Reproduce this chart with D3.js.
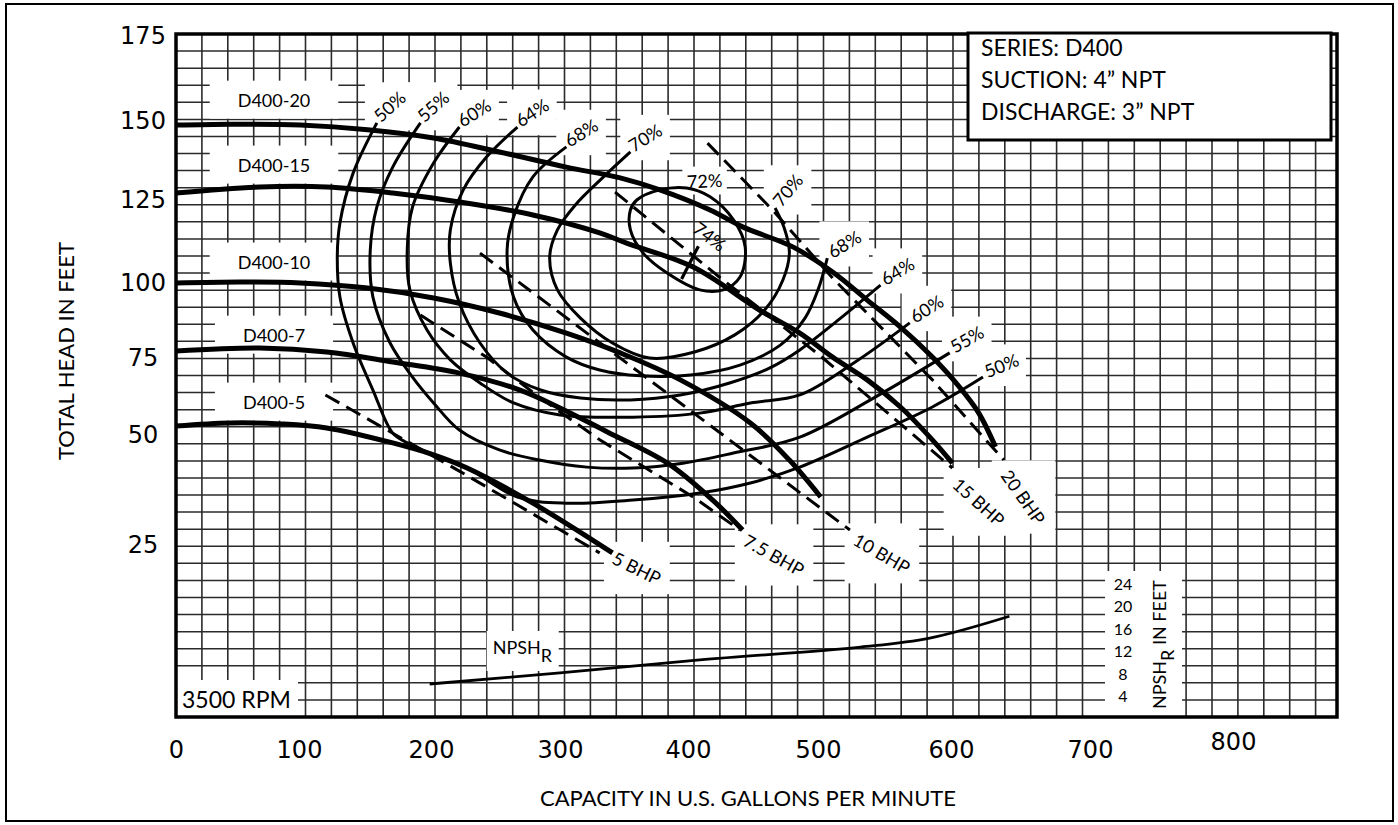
<!DOCTYPE html>
<html><head><meta charset="utf-8">
<script src="https://cdn.jsdelivr.net/npm/d3@7"></script>
<style>
body{margin:0;background:#fff;}
svg{display:block;}
</style></head>
<body>
<svg id="chart" width="1398" height="825"></svg>
<script>
// ---------------- DATA ----------------
const xTicks = [0,100,200,300,400,500,600,700,800];
const yTicks = [25,50,75,100,125,150,175];
const npshTicks = [4,8,12,16,20,24];

// Head-capacity curves (gpm, ft)
const d400_20_gpm  = [0,44,101,152,202,253,305,347,378,417,442,481,511,537,562,586,606,620,632];
const d400_20_head = [148.7,149,148.7,147.2,144.6,140.2,135.4,132,128.2,122,116.9,110.8,103.3,94.3,85.3,75.3,65.6,57.1,47.3];
const d400_15_gpm  = [0,68,121,171,222,279,331,352,404,455,486,511,537,562,586,601];
const d400_15_head = [127.2,129.1,129.1,127.2,124.4,120.5,115.1,112,104.8,91,83.3,75.3,67.9,59.1,48.9,43.6];
const d400_10_gpm  = [0,52,101,152,202,253,305,347,394,448,478,502];
const d400_10_head = [100,100.3,100,98.3,95,90,83.3,76.7,67.9,53.9,44.3,35.9];
const d400_7_gpm   = [0,68,121,171,222,269,300,337,384,419,442];
const d400_7_head  = [77.3,78.3,77,73.7,70.1,64.6,58.8,51,43.6,35.2,28.4];
const d400_5_gpm   = [0,44,85,121,171,202,228,279,341];
const d400_5_head  = [52.9,53.9,53.6,52.3,48.2,45.5,42.5,34.5,23.2];

// Brake horsepower lines (dashed)
const bhp5_gpm   = [120,222,331];
const bhp5_head  = [63,41.8,23.2];
const bhp75_gpm  = [192,243,284,331,404,440];
const bhp75_head = [89.3,75.3,62.3,48.9,35.9,28.4];
const bhp10_gpm  = [238,373,524];
const bhp10_head = [109,66.9,28.4];
const bhp15_gpm  = [343,425,501,601];
const bhp15_head = [127.5,101.5,76,42.5];
const bhp20_gpm  = [415,465,511,586,638];
const bhp20_head = [143,122,101.5,67.9,44.3];

// Iso-efficiency curves
const eff50_gpm  = [159,141,131,129,131,141,156,171,182,202,228,267,305,357,409,448,486,537,586,623];
const eff50_head = [149.4,133.5,118.1,107.8,95.3,80,64.6,50.6,48.2,45.5,42.5,35.9,34.5,35.2,36.8,39.1,42.7,49.5,59.1,68.8];
const eff55_gpm  = [192,171,159,154,156,169,186,202,222,253,284,321,357,396,435,486,543,599];
const eff55_head = [149.4,135.4,122.9,110,95.3,80,68.8,60.4,51.6,46.6,44.3,42.7,42.5,43.6,45.9,49.5,62.3,76.7];
const eff60_gpm  = [222,202,186,182,184,197,215,238,264,300,357,409,448,486,528,569];
const eff60_head = [148.1,136.7,122.9,110,97.7,84.3,74.4,66.9,60.4,56.5,55.8,57.1,60.4,63,73.7,86.7];
const eff64_gpm  = [267,243,225,215,215,222,238,259,285,316,355,394,432,463,486,517,547];
const eff64_head = [148.1,138.6,128.2,116,106,93.3,80,70.1,64.6,62,61.4,63,66.9,71.8,77.7,88.3,99.3];
const eff68_gpm  = [305,279,264,259,264,279,305,331,363,402,440,471,490,500,507];
const eff68_head = [141.8,132.3,119.9,110,95.3,84.3,75.3,71.1,69.2,69.5,72.7,79.3,88.3,97.7,107.5];
const eff70_gpm  = [355,334,312,298,292,298,316,341,370,405,436,459,473,478,474,467];
const eff70_head = [140.2,132.3,123.5,116,107.8,97.7,88.3,80,75,77,82.7,91,100.9,109.3,116.6,122.6];
const eff72_gpm  = [360,378,399,417,435,444,440,427,409,384,365,355,355];
const eff72_head = [125,128.2,128.8,126,119,110.8,101.8,97.7,97.7,102.9,109,116,122];
const bep74_gpm  = [395,408];
const bep74_head = [101.2,111.1];

// NPSH required
const npsh_gpm = [199,300,409,532,584,642];
const npsh_ft  = [6.5,8.5,10.8,13.1,14.7,18.6];

const headNames = ["D400-20","D400-15","D400-10","D400-7","D400-5"];
const bhpNames  = ["5 BHP","7.5 BHP","10 BHP","15 BHP","20 BHP"];
const effNames  = ["50%","55%","60%","64%","68%","70%"];
const infoLines = ["SERIES: D400","SUCTION: 4\u201D NPT","DISCHARGE: 3\u201D NPT"];

// ---------------- CHART ----------------
const zip = (a,b) => a.map((v,i)=>[v,b[i]]);
const headCurves = [
  zip(d400_20_gpm,d400_20_head), zip(d400_15_gpm,d400_15_head), zip(d400_10_gpm,d400_10_head),
  zip(d400_7_gpm,d400_7_head), zip(d400_5_gpm,d400_5_head)];
const bhpLines = [zip(bhp5_gpm,bhp5_head), zip(bhp75_gpm,bhp75_head), zip(bhp10_gpm,bhp10_head),
  zip(bhp15_gpm,bhp15_head), zip(bhp20_gpm,bhp20_head)];
const effCurves = [zip(eff50_gpm,eff50_head), zip(eff55_gpm,eff55_head), zip(eff60_gpm,eff60_head),
  zip(eff64_gpm,eff64_head), zip(eff68_gpm,eff68_head), zip(eff70_gpm,eff70_head)];
const eff72 = zip(eff72_gpm,eff72_head);
const bep74 = zip(bep74_gpm,bep74_head);
const npsh = zip(npsh_gpm,npsh_ft);

const svg = d3.select('#chart');
const plot = {left:176, right:1337, top:34, bottom:717};

const x = d3.scaleLinear().domain(xTicks).range([176,299,431,560,688,818,951,1090,1233]);
const y = d3.scaleLinear().domain(yTicks).range([545,435,358,283,200,121,36]);
const yN = d3.scaleLinear().domain([npshTicks[0], npshTicks[npshTicks.length-1]]).range([698,586]);
const gx = d3.scaleLinear().domain([0,45]).range([plot.left, plot.left + 25.9*45]);
const gy = d3.scaleLinear().domain([0,40]).range([plot.bottom, plot.top]);

const SANS = "Lato, 'Open Sans', sans-serif";

// outer frame
svg.append('rect').attr('x',6).attr('y',4).attr('width',1387).attr('height',817)
  .attr('fill','#fff').attr('stroke','#000').attr('stroke-width',2);

const gridG = svg.append('g');
const patchG = svg.append('g');
const curveG = svg.append('g');
const textG = svg.append('g');

// grid
gridG.selectAll('line.v').data(d3.range(1,45)).join('line').attr('class','v')
  .attr('x1',d=>gx(d)).attr('x2',d=>gx(d)).attr('y1',plot.top).attr('y2',plot.bottom)
  .attr('stroke','#2b2b2b').attr('stroke-width',1.6);
gridG.selectAll('line.h').data(d3.range(1,40)).join('line').attr('class','h')
  .attr('y1',d=>gy(d)).attr('y2',d=>gy(d)).attr('x1',plot.left).attr('x2',plot.right)
  .attr('stroke','#2b2b2b').attr('stroke-width',1.5);

// line generators
const smooth = d3.line().x(d=>x(d[0])).y(d=>y(d[1])).curve(d3.curveCatmullRom.alpha(0.5));
const straight = d3.line().x(d=>x(d[0])).y(d=>y(d[1]));
const closed = d3.line().x(d=>x(d[0])).y(d=>y(d[1])).curve(d3.curveCatmullRomClosed.alpha(0.5));
const npshGen = d3.line().x(d=>x(d[0])).y(d=>yN(d[1])).curve(d3.curveCatmullRom.alpha(0.5));

// efficiency curves
curveG.selectAll('path.eff').data(effCurves).join('path').attr('class','eff')
  .attr('d',smooth).attr('fill','none').attr('stroke','#000').attr('stroke-width',3);
curveG.append('path').datum(eff72).attr('d',closed).attr('fill','none').attr('stroke','#000').attr('stroke-width',3);
curveG.append('path').datum(bep74).attr('d',straight).attr('fill','none').attr('stroke','#000').attr('stroke-width',3.2);

// BHP dashed lines
curveG.selectAll('path.bhp').data(bhpLines).join('path').attr('class','bhp')
  .attr('d',straight).attr('fill','none').attr('stroke','#000').attr('stroke-width',3)
  .attr('stroke-dasharray','16,8');

// head curves
curveG.selectAll('path.head').data(headCurves).join('path').attr('class','head')
  .attr('d',smooth).attr('fill','none').attr('stroke','#000').attr('stroke-width',5);

// NPSH curve
curveG.append('path').datum(npsh).attr('d',npshGen).attr('fill','none').attr('stroke','#000').attr('stroke-width',2.8);

// plot border
svg.append('rect').attr('x',plot.left).attr('y',plot.top).attr('width',plot.right-plot.left)
  .attr('height',plot.bottom-plot.top).attr('fill','none').attr('stroke','#000').attr('stroke-width',3.5);

// helper: white patch behind text
function patch(sel, px, py){
  sel.each(function(){
    const r = this.getBoundingClientRect();
    patchG.append('rect').attr('x',r.left-px).attr('y',r.top-py)
      .attr('width',r.width+2*px).attr('height',r.height+2*py).attr('fill','#fff');
  });
}
function addText(txt, px, py, angle, size, anchor){
  return textG.append('text').attr('transform',`translate(${px},${py}) rotate(${angle})`)
    .attr('text-anchor',anchor||'start').attr('dominant-baseline','middle')
    .style('font-family',SANS).style('font-size',size+'px').attr('fill','#000').text(txt);
}

// head curve labels
const headLabelDy = [-23,-26,-19,-14,-22];
headCurves.forEach((c,i)=>{
  const t = addText(headNames[i], x(c[0][0])+98, y(c[0][1])+headLabelDy[i], 0, 18, 'middle');
  patch(t, 28, 8);
});

// efficiency labels  [left angle, right angle]
const effAngles = [[-42,-22],[-42,-30],[-32,-32],[-33,-31],[-32,-31],[-32,-50]];
effCurves.forEach((c,i)=>{
  const a = c[0], b = c[c.length-1];
  const t1 = addText(effNames[i], x(a[0])+1, y(a[1])-3, effAngles[i][0], 18);
  patch(t1, 4, 4);
  const t2 = addText(effNames[i], x(b[0])+3, y(b[1])-3, effAngles[i][1], 18);
  patch(t2, 4, 4);
});
const t72 = addText('72%', x(eff72[2][0])+18, y(eff72[2][1])-5, -3, 18, 'middle');
patch(t72, 4, 2);
const t74 = addText('74%', x(bep74[1][0])+10, y(bep74[1][1])-8, 37, 18, 'middle');

// BHP labels [dx, dy, angle]
const bhpStyle = [[13,6,26],[4,11,29],[4,10,30],[2,15,42],[0,13,55]];
bhpLines.forEach((c,i)=>{
  const e = c[c.length-1], s = bhpStyle[i];
  const t = addText(bhpNames[i], x(e[0])+s[0], y(e[1])+s[1], s[2], 18);
  patch(t, 5, 5);
});

// NPSH label on curve
const nl = textG.append('text').attr('x', x(npsh[0][0])+63).attr('y', yN(npsh[0][1])-30)
  .style('font-family',SANS).style('font-size','18px');
nl.append('tspan').text('NPSH');
nl.append('tspan').attr('dy',8).text('R');
patch(nl, 6, 5);

// NPSH axis (right side)
const npshG = textG.append('g');
npshG.selectAll('text').data(npshTicks).join('text')
  .attr('x',1123).attr('y',d=>yN(d)).attr('text-anchor','middle').attr('dominant-baseline','middle')
  .style('font-family',SANS).style('font-size','16px').text(d=>d);
const nt = textG.append('text').attr('transform','translate(1166,709) rotate(-90)')
  .style('font-family',SANS).style('font-size','18px');
nt.append('tspan').text('NPSH');
nt.append('tspan').attr('dy',8).text('R');
nt.append('tspan').attr('dy',-8).text('  IN FEET');
patchG.append('rect').attr('x',1105).attr('y',571).attr('width',77).attr('height',plot.bottom-571).attr('fill','#fff');

// 3500 RPM
textG.append('text').attr('x',plot.left+6).attr('y',plot.bottom-9)
  .style('font-family',SANS).style('font-size','23px').text('3500 RPM');
patchG.append('rect').attr('x',plot.left).attr('y',680).attr('width',122).attr('height',plot.bottom-680).attr('fill','#fff');

// info box
svg.append('rect').attr('x',968).attr('y',33).attr('width',363).attr('height',107)
  .attr('fill','#fff').attr('stroke','#000').attr('stroke-width',3);
svg.selectAll('text.info').data(infoLines).join('text').attr('class','info')
  .attr('x',981).attr('y',(d,i)=>56+i*32)
  .style('font-family',SANS).style('font-size','23px').text(d=>d);

// axes
const yAxis = d3.axisLeft(y).tickValues(yTicks).tickSize(0).tickPadding(0);
svg.append('g').attr('transform',`translate(${plot.left},0)`).call(yAxis)
  .call(g=>g.select('.domain').remove())
  .selectAll('text').attr('x',-33).attr('text-anchor','middle')
  .style('font-family','DejaVu Sans, sans-serif').style('font-size','24px').attr('fill','#000');

const xAxis = d3.axisBottom(x).tickValues(xTicks).tickSize(0).tickPadding(24);
svg.append('g').attr('transform',`translate(0,${plot.bottom})`).call(xAxis)
  .call(g=>g.select('.domain').remove())
  .selectAll('text')
  .style('font-family','DejaVu Sans, sans-serif').style('font-size','24px').attr('fill','#000')
  .filter(d=>d===800).attr('y',16);

// axis titles
svg.append('text').attr('x',748).attr('y',806).attr('text-anchor','middle')
  .style('font-family',SANS).style('font-size','22px').text('CAPACITY IN U.S. GALLONS PER MINUTE');
svg.append('text').attr('transform','translate(74,351) rotate(-90)').attr('text-anchor','middle')
  .style('font-family',SANS).style('font-size','22px').text('TOTAL HEAD IN FEET');
</script>
</body></html>
